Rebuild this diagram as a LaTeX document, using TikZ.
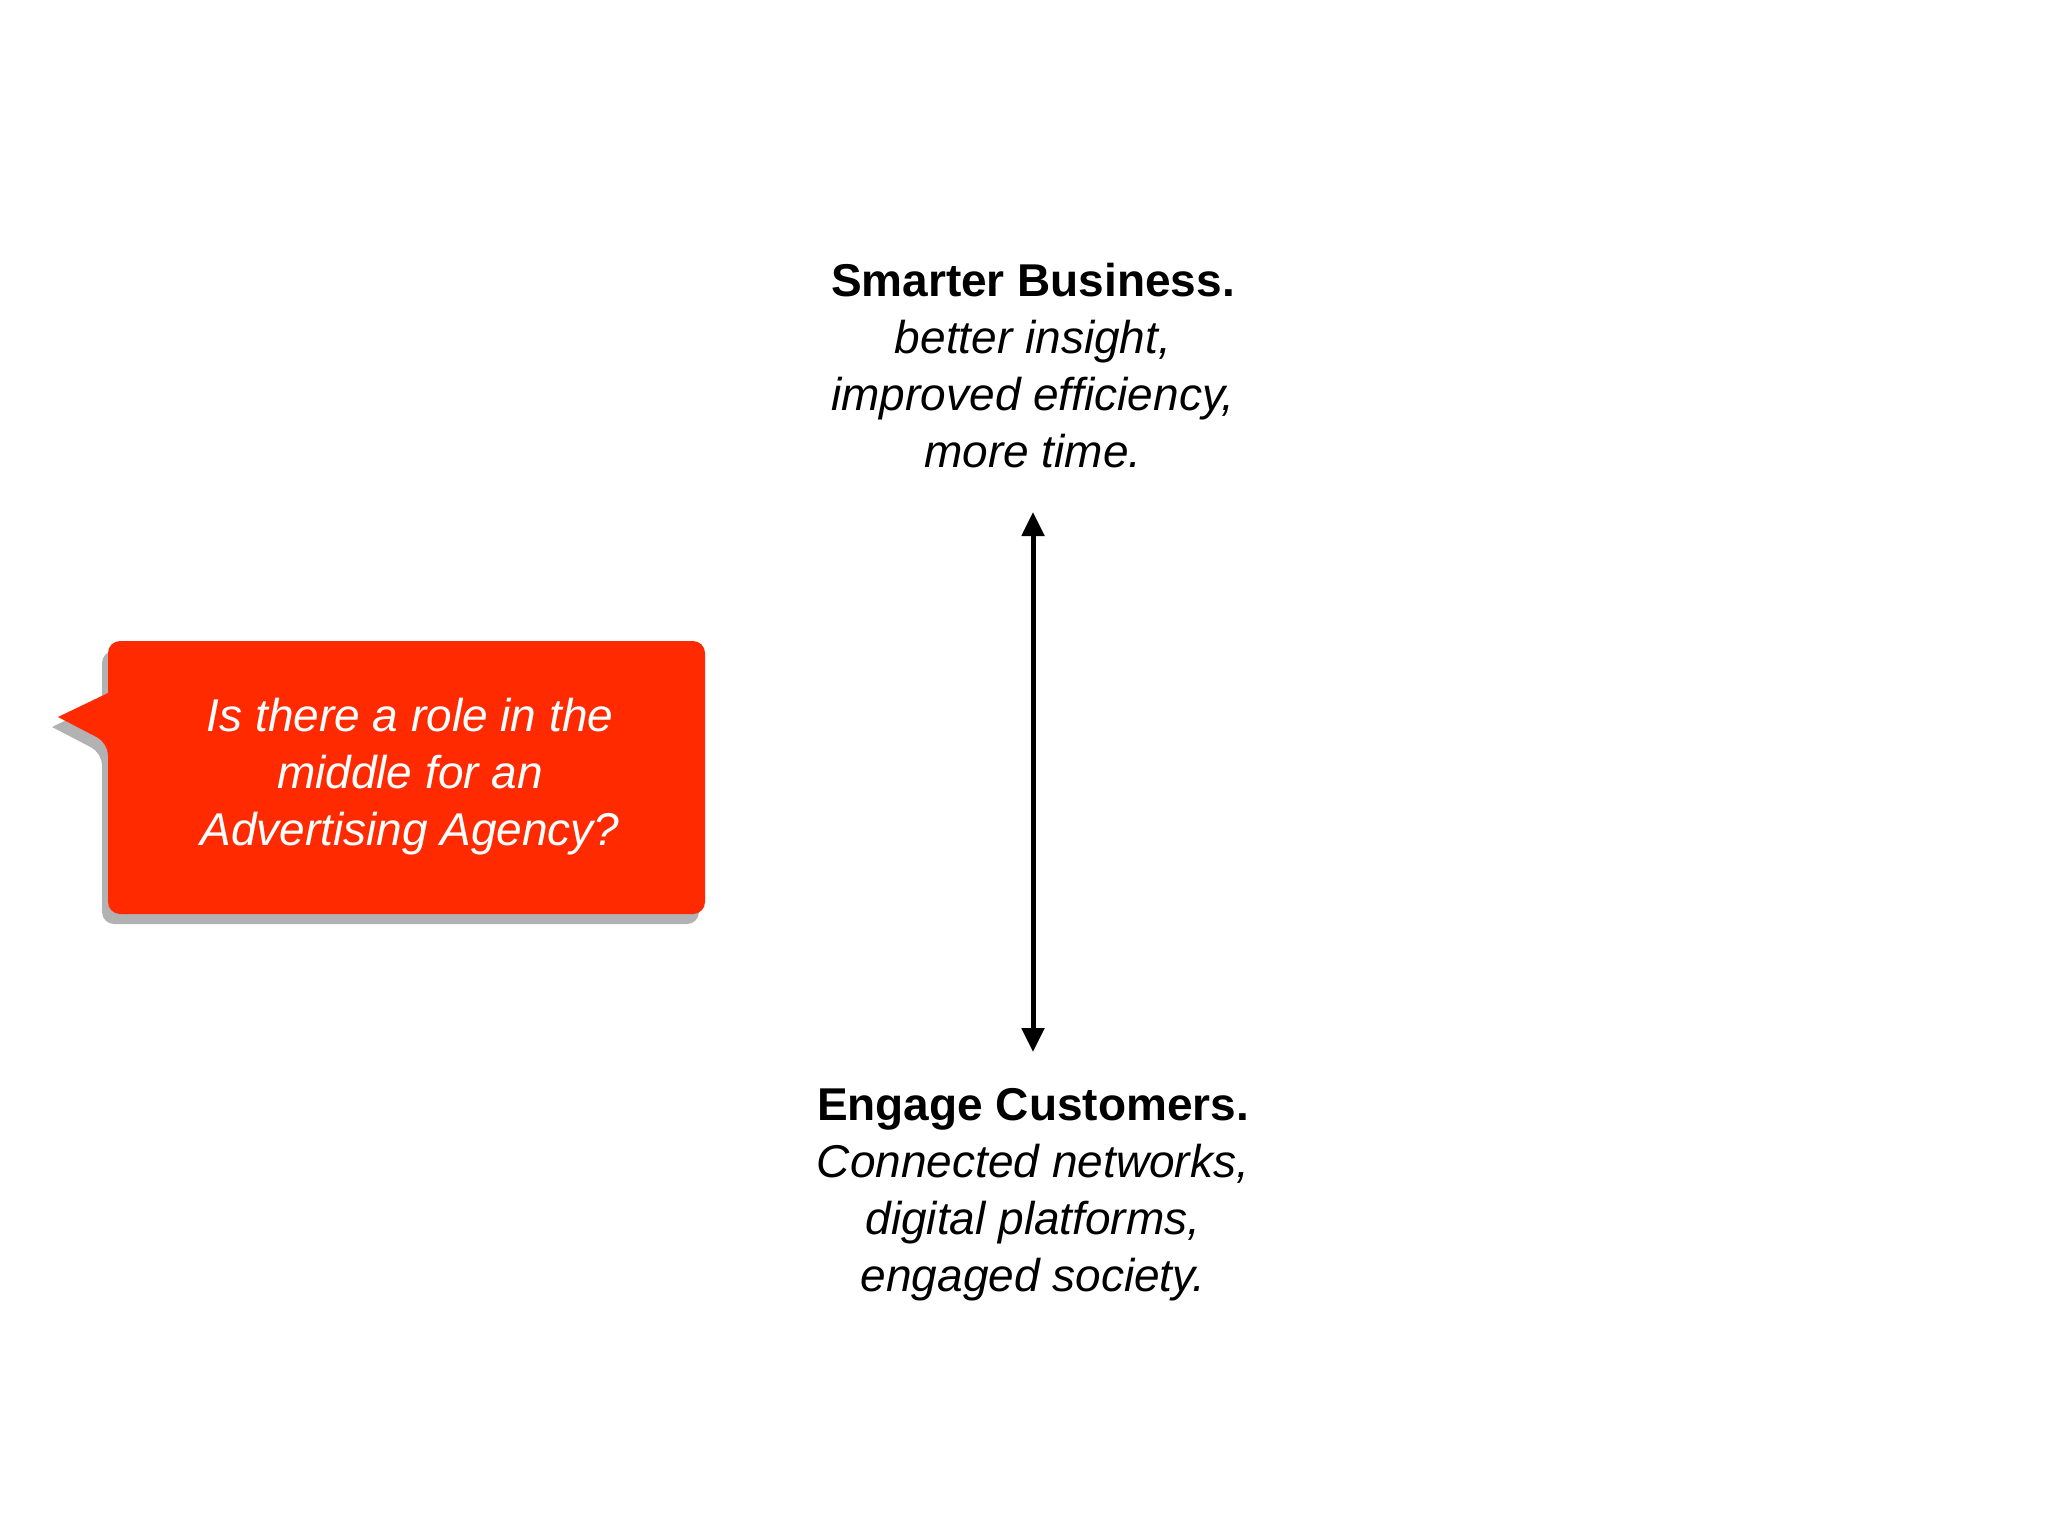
\documentclass[tikz,border=0pt]{standalone}
\usepackage{fontspec}
\setmainfont{Liberation Sans}
\usetikzlibrary{arrows.meta,shadows}
\definecolor{callred}{HTML}{FF2A00}
\tikzset{lbl/.style={align=center,font=\fontsize{46}{57}\selectfont,anchor=center}}
\begin{document}
\begin{tikzpicture}[x=1pt,y=-1pt]
\useasboundingbox (0,0) rectangle (2048,1536);
\fill[white] (0,0) rectangle (2048,1536);
% callout
\path[fill=callred,drop shadow={shadow xshift=-6pt,shadow yshift=-10pt,opacity=0.5,fill=black!60}]
  (108,693) [rounded corners=12pt] -- (108,641) -- (705,641) -- (705,914) -- (108,914) -- (108,743) [sharp corners] -- (58,717) -- cycle;
\node[lbl,text=white] (q) at (410,777) {\itshape Is there a role in the\\\itshape middle for an\\\itshape Advertising Agency?};
\node[lbl] (top) at (1033,366) {\textbf{Smarter Business.}\\\itshape better insight,\\\itshape improved efficiency,\\\itshape more time.};
\node[lbl] (bot) at (1033,1195) {\textbf{Engage Customers.}\\\itshape Connected networks,\\\itshape digital platforms,\\\itshape engaged society.};
\coordinate (a1) at (1033,512);
\coordinate (a2) at (1033,1052);
\draw[line width=5pt,{Triangle[length=24pt,width=22pt]}-{Triangle[length=24pt,width=22pt]}] (a1) -- (a2);
\end{tikzpicture}
\end{document}
